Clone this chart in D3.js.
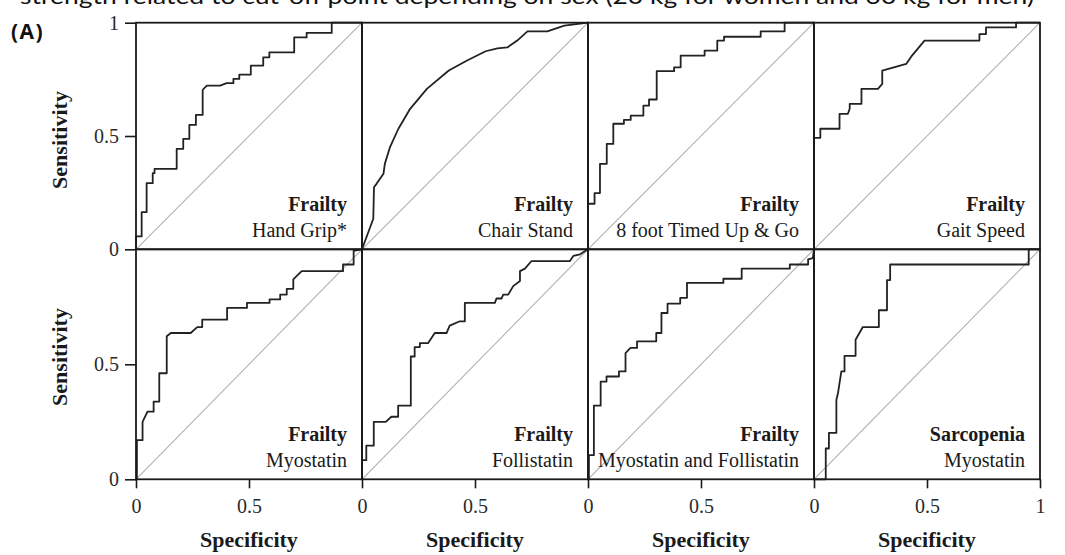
<!DOCTYPE html>
<html>
<head>
<meta charset="utf-8">
<script src="https://cdn.jsdelivr.net/npm/d3@7"></script>
<style>
    body { margin: 0; background: #fff; }
    svg { display: block; }
</style>
</head>
<body>
<svg id="roc-chart"></svg>
<script>
// ROC curves, [specificity, sensitivity] pairs
const handGrip = [[0,0],[0,0.057],[0.025,0.057],[0.025,0.164],[0.047,0.164],[0.047,0.292],[0.074,0.292],[0.074,0.336],[0.082,0.336],[0.082,0.355],[0.18,0.355],[0.18,0.443],[0.209,0.443],[0.209,0.487],[0.236,0.487],[0.236,0.549],[0.265,0.549],[0.265,0.593],[0.295,0.593],[0.295,0.703],[0.313,0.722],[0.372,0.722],[0.401,0.733],[0.431,0.733],[0.431,0.752],[0.457,0.752],[0.457,0.771],[0.508,0.771],[0.508,0.811],[0.563,0.811],[0.563,0.847],[0.59,0.847],[0.59,0.869],[0.70,0.869],[0.70,0.935],[0.755,0.935],[0.755,0.955],[0.866,0.955],[0.866,1],[1,1]];
const chairStand = [[0,0],[0.05,0.135],[0.053,0.274],[0.065,0.29],[0.095,0.333],[0.101,0.377],[0.124,0.451],[0.161,0.532],[0.213,0.62],[0.287,0.708],[0.384,0.789],[0.465,0.833],[0.547,0.874],[0.599,0.887],[0.643,0.891],[0.687,0.921],[0.732,0.962],[0.82,0.962],[0.895,0.987],[1,1]];
const tug8ft = [[0,0],[0,0.201],[0.029,0.201],[0.029,0.248],[0.053,0.248],[0.053,0.377],[0.083,0.377],[0.083,0.465],[0.112,0.465],[0.112,0.554],[0.159,0.554],[0.159,0.571],[0.189,0.571],[0.189,0.59],[0.245,0.59],[0.245,0.634],[0.27,0.634],[0.27,0.661],[0.304,0.661],[0.304,0.786],[0.381,0.786],[0.381,0.803],[0.41,0.803],[0.41,0.855],[0.516,0.855],[0.516,0.877],[0.572,0.877],[0.572,0.921],[0.602,0.921],[0.602,0.938],[0.764,0.938],[0.764,0.962],[0.87,0.962],[0.87,1],[1,1]];
const gaitSpeed = [[0,0],[0,0.492],[0.028,0.492],[0.028,0.532],[0.113,0.532],[0.113,0.598],[0.15,0.598],[0.158,0.62],[0.158,0.642],[0.21,0.642],[0.21,0.708],[0.283,0.708],[0.302,0.73],[0.302,0.789],[0.408,0.818],[0.43,0.85],[0.489,0.921],[0.732,0.921],[0.732,0.95],[0.761,0.95],[0.761,0.979],[0.894,0.979],[0.894,1],[1,1]];
const myostatinFrailty = [[0,0],[0.004,0],[0.004,0.17],[0.029,0.17],[0.029,0.25],[0.051,0.294],[0.078,0.294],[0.078,0.338],[0.103,0.338],[0.103,0.461],[0.136,0.461],[0.136,0.622],[0.154,0.636],[0.242,0.636],[0.271,0.662],[0.293,0.662],[0.293,0.694],[0.403,0.694],[0.403,0.745],[0.491,0.745],[0.491,0.767],[0.591,0.767],[0.591,0.782],[0.638,0.782],[0.638,0.803],[0.667,0.803],[0.667,0.828],[0.696,0.828],[0.696,0.869],[0.733,0.905],[0.916,0.905],[0.916,0.934],[0.963,0.934],[0.963,0.993],[1,1]];
const follistatinFrailty = [[0,0],[0,0.083],[0.019,0.083],[0.019,0.146],[0.052,0.146],[0.052,0.25],[0.105,0.25],[0.13,0.272],[0.16,0.272],[0.16,0.32],[0.216,0.32],[0.216,0.534],[0.233,0.534],[0.233,0.575],[0.256,0.575],[0.256,0.592],[0.292,0.592],[0.322,0.636],[0.374,0.636],[0.388,0.668],[0.433,0.687],[0.455,0.687],[0.455,0.767],[0.588,0.767],[0.595,0.786],[0.617,0.786],[0.625,0.803],[0.647,0.803],[0.669,0.84],[0.699,0.862],[0.699,0.905],[0.721,0.916],[0.75,0.949],[0.92,0.949],[0.935,0.971],[0.965,0.978],[1,1]];
const myoFolliFrailty = [[0,0],[0.004,0],[0.004,0.105],[0.026,0.105],[0.026,0.32],[0.056,0.32],[0.056,0.425],[0.082,0.425],[0.082,0.447],[0.137,0.447],[0.137,0.469],[0.166,0.469],[0.166,0.549],[0.188,0.571],[0.217,0.571],[0.217,0.6],[0.302,0.6],[0.302,0.636],[0.325,0.636],[0.325,0.723],[0.352,0.723],[0.352,0.764],[0.408,0.764],[0.408,0.789],[0.438,0.789],[0.438,0.854],[0.599,0.854],[0.599,0.872],[0.68,0.872],[0.68,0.916],[0.893,0.916],[0.893,0.934],[0.974,0.934],[0.974,0.956],[0.995,0.962],[1,1]];
const myostatinSarcopenia = [[0,0],[0.052,0],[0.052,0.134],[0.066,0.134],[0.066,0.202],[0.099,0.202],[0.099,0.345],[0.106,0.374],[0.121,0.469],[0.135,0.469],[0.135,0.537],[0.184,0.537],[0.184,0.607],[0.216,0.662],[0.287,0.662],[0.287,0.735],[0.323,0.735],[0.323,0.866],[0.337,0.866],[0.337,0.934],[0.95,0.934],[0.95,1],[1,1]];

const outcomes = ["Frailty", "Frailty", "Frailty", "Frailty", "Frailty", "Frailty", "Frailty", "Sarcopenia"];
const tests = ["Hand Grip*", "Chair Stand", "8 foot Timed Up & Go", "Gait Speed", "Myostatin", "Follistatin", "Myostatin and Follistatin", "Myostatin"];
const curves = [handGrip, chairStand, tug8ft, gaitSpeed, myostatinFrailty, follistatinFrailty, myoFolliFrailty, myostatinSarcopenia];
const yTicksTop = [0, 0.5, 1];
const yTicksBottom = [0, 0.5];
const xTicks = [0, 0.5];
const xTicksLast = [0, 0.5, 1];

const captionText = "strength related to cut-off point depending on sex (20 kg for women and 30 kg for men)";

const svgWidth = 1065, svgHeight = 555;
const colEdges = [136, 362, 588, 814, 1040];
const rowEdges = [22.7, 249.3, 479.3];
const serif = "'Liberation Serif', 'Times New Roman', serif";

const svg = d3.select("#roc-chart")
    .attr("width", svgWidth)
    .attr("height", svgHeight);

// caption line of the page above, cut off at the top like in the source
svg.append("text")
    .attr("x", 20)
    .attr("y", 4)
    .attr("textLength", 1014)
    .attr("lengthAdjust", "spacingAndGlyphs")
    .style("font-family", "Lato, 'Open Sans', sans-serif")
    .style("font-size", "22px")
    .attr("fill", "#111")
    .text(captionText);

svg.append("text")
    .attr("x", 11)
    .attr("y", 39)
    .style("font-family", "'Open Sans', sans-serif")
    .style("font-size", "21px")
    .style("font-weight", "bold")
    .style("letter-spacing", "1.5px")
    .attr("fill", "#111")
    .text("(A)");

const line = d3.line();

curves.forEach((curve, i) => {
    const col = i % 4, row = Math.floor(i / 4);
    const x = d3.scaleLinear().domain([0, 1]).range([colEdges[col], colEdges[col + 1]]);
    const y = d3.scaleLinear().domain([0, 1]).range([rowEdges[row + 1], rowEdges[row]]);
    const g = svg.append("g");

    // reference diagonal
    g.append("line")
        .attr("x1", x(0)).attr("y1", y(0))
        .attr("x2", x(1)).attr("y2", y(1))
        .attr("stroke", "#b0b0b0")
        .attr("stroke-width", 1.1);

    g.append("path")
        .datum(curve)
        .attr("fill", "none")
        .attr("stroke", "#222")
        .attr("stroke-width", 1.8)
        .attr("stroke-linejoin", "round")
        .attr("d", line.x(d => x(d[0])).y(d => y(d[1])));

    g.append("rect")
        .attr("x", x(0)).attr("y", y(1))
        .attr("width", x(1) - x(0))
        .attr("height", y(0) - y(1))
        .attr("fill", "none")
        .attr("stroke", "#1a1a1a")
        .attr("stroke-width", 1.8);

    g.append("text")
        .attr("x", x(1) - 15)
        .attr("y", y(0) - 38)
        .attr("text-anchor", "end")
        .style("font-family", serif)
        .style("font-size", "20px")
        .style("font-weight", "bold")
        .attr("fill", "#1a1a1a")
        .text(outcomes[i]);

    g.append("text")
        .attr("x", x(1) - 15)
        .attr("y", y(0) - 12)
        .attr("text-anchor", "end")
        .style("font-family", serif)
        .style("font-size", "20px")
        .attr("fill", "#1a1a1a")
        .text(tests[i]);

    if (col === 0) {
        const yAxis = svg.append("g")
            .attr("transform", `translate(${x(0)},0)`)
            .call(d3.axisLeft(y)
                .tickValues(row === 0 ? yTicksTop : yTicksBottom)
                .tickSize(11)
                .tickPadding(6)
                .tickFormat(d => String(d)));
        yAxis.select(".domain").remove();
        yAxis.selectAll("line").attr("stroke", "#1a1a1a").attr("stroke-width", 1.6);
        yAxis.selectAll("text")
            .style("font-family", serif)
            .style("font-size", "20px")
            .attr("fill", "#2a2a2a");

        svg.append("text")
            .attr("transform", `translate(67,${row === 0 ? 140 : 357}) rotate(-90)`)
            .attr("text-anchor", "middle")
            .style("font-family", serif)
            .style("font-size", "22px")
            .style("font-weight", "bold")
            .attr("fill", "#1a1a1a")
            .text("Sensitivity");
    }

    if (row === 1) {
        const xAxis = svg.append("g")
            .attr("transform", `translate(0,${y(0)})`)
            .call(d3.axisBottom(x)
                .tickValues(col === 3 ? xTicksLast : xTicks)
                .tickSize(9)
                .tickPadding(11)
                .tickFormat(d => String(d)));
        xAxis.select(".domain").remove();
        xAxis.selectAll("line").attr("stroke", "#1a1a1a").attr("stroke-width", 1.6);
        xAxis.selectAll("text")
            .style("font-family", serif)
            .style("font-size", "20px")
            .attr("fill", "#2a2a2a");

        svg.append("text")
            .attr("x", (x(0) + x(1)) / 2)
            .attr("y", 547)
            .attr("text-anchor", "middle")
            .style("font-family", serif)
            .style("font-size", "22px")
            .style("font-weight", "bold")
            .attr("fill", "#1a1a1a")
            .text("Specificity");
    }
});
</script>
</body>
</html>
